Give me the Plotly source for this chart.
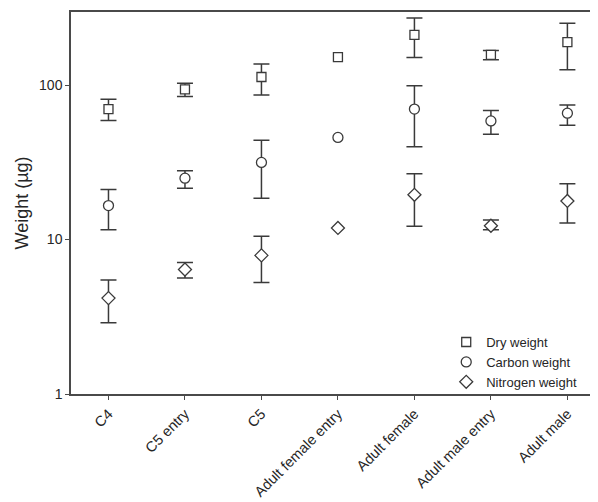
import plotly.graph_objects as go

categories = ["C4", "C5 entry", "C5", "Adult female entry", "Adult female", "Adult male entry", "Adult male"]

dry = [70, 94, 113, 152, 212, 157, 190]
dry_hi = [81, 103, 137, None, 272, 168, 252]
dry_lo = [59, 84.5, 86.5, None, 151, 146, 126]

carbon = [16.6, 25, 31.6, 45.9, 70, 58.7, 65.9]
carbon_hi = [21.1, 27.9, 44, None, 99, 68.5, 74.3]
carbon_lo = [11.6, 21.5, 18.5, None, 40, 48.2, 55]

nitrogen = [4.18, 6.4, 7.9, 11.9, 19.5, 12.3, 17.8]
nitrogen_hi = [5.47, 7.1, 10.5, None, 26.7, 13.4, 23]
nitrogen_lo = [2.89, 5.63, 5.28, None, 12.2, 11.6, 12.8]

series = [
    ("Dry weight", dry, dry_hi, dry_lo, "square", 9),
    ("Carbon weight", carbon, carbon_hi, carbon_lo, "circle", 10),
    ("Nitrogen weight", nitrogen, nitrogen_hi, nitrogen_lo, "diamond", 10),
]

ink = "#3a3a3a"
fig = go.Figure()
for name, vals, hi, lo, sym, size in series:
    xs = list(range(len(categories)))
    ex = [x for x, h in zip(xs, hi) if h is not None]
    ev = [v for v, h in zip(vals, hi) if h is not None]
    plus = [h - v for v, h in zip(vals, hi) if h is not None]
    minus = [v - l for v, l in zip(vals, lo) if l is not None]
    fig.add_trace(go.Scatter(
        x=ex, y=ev, mode="markers", showlegend=False, hoverinfo="skip",
        marker=dict(size=1, color="rgba(0,0,0,0)"),
        error_y=dict(type="data", symmetric=False, array=plus, arrayminus=minus,
                     color=ink, thickness=1.5, width=8),
    ))
    fig.add_trace(go.Scatter(
        x=xs, y=vals, mode="markers", name=name,
        marker=dict(symbol=sym, size=size, color="white",
                    line=dict(color=ink, width=1.3)),
    ))

# page body has an 8px default margin; figure sized so the plot reaches the window edge
fig.update_layout(
    width=590, height=494,
    margin=dict(l=63, r=0, t=4, b=108),
    paper_bgcolor="white", plot_bgcolor="white",
    font=dict(family="Liberation Sans, Arial, sans-serif", size=14, color="#262626"),
    showlegend=True,
    legend=dict(x=0.712, xanchor="left", y=-0.008, yanchor="bottom",
                bgcolor="rgba(0,0,0,0)", font=dict(size=13),
                itemsizing="trace", tracegroupgap=0),
    xaxis=dict(
        range=[-0.49, 6.40], tickmode="array", tickvals=list(range(len(categories))),
        ticktext=categories, tickangle=-45, showgrid=False, zeroline=False,
        showline=True, linecolor="#4a4a4a", linewidth=1.5, mirror=True,
        ticks="outside", ticklen=4, tickcolor="#4a4a4a", tickwidth=1.2,
        tickfont=dict(size=14.5), automargin=False,
    ),
    yaxis=dict(
        type="log", range=[0, 2.474], tickmode="array", tickvals=[1, 10, 100],
        ticktext=["1", "10", "100"], showgrid=False, zeroline=False,
        showline=True, linecolor="#4a4a4a", linewidth=1.5,
        ticks="outside", ticklen=4, tickcolor="#4a4a4a", tickwidth=1.2,
        title=dict(text="Weight (µg)", font=dict(size=18), standoff=6),
        tickfont=dict(size=14), automargin=False,
    ),
)

fig.write_html("out.html")
